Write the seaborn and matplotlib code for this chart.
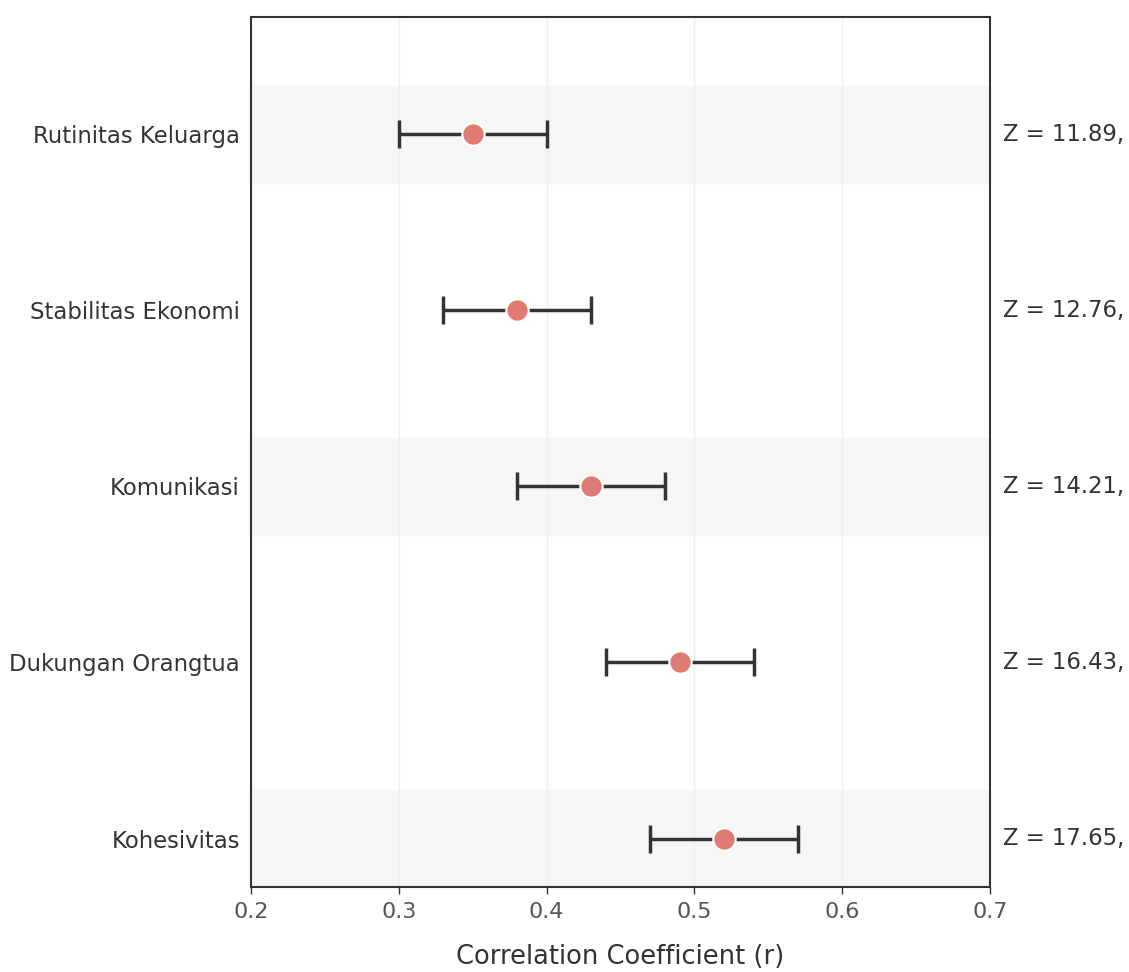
import numpy as np
import pandas as pd
import seaborn as sns
import matplotlib.pyplot as plt
import matplotlib.transforms as mtransforms

# data (bottom to top)
factors = ['Kohesivitas', 'Dukungan Orangtua', 'Komunikasi', 'Stabilitas Ekonomi', 'Rutinitas Keluarga']
r_values = [0.52, 0.49, 0.43, 0.38, 0.35]
ci_low = [0.47, 0.44, 0.38, 0.33, 0.30]
ci_high = [0.57, 0.54, 0.48, 0.43, 0.40]
z_labels = ['Z = 17.65,', 'Z = 16.43,', 'Z = 14.21,', 'Z = 12.76,', 'Z = 11.89,']

df = pd.DataFrame({'factor': factors, 'r': r_values, 'lo': ci_low, 'hi': ci_high})
df['pos'] = np.arange(len(df))

sns.set_theme(style='white')
plt.rcParams['font.family'] = ['DejaVu Sans']

fig = plt.figure(figsize=(11.29, 9.72), dpi=100)
ax = fig.add_axes([0.2223, 0.0875, 0.6546, 0.895])

# alternating background bands
for p in df['pos']:
    if p % 2 == 0:
        ax.axhspan(p - 0.275, p + 0.275, color='#f6f6f6', zorder=0)

ax.grid(axis='x', color='#efefef', linewidth=1, zorder=0.5)
ax.set_axisbelow(True)

# confidence intervals
ax.errorbar(df['r'], df['pos'],
            xerr=[df['r'] - df['lo'], df['hi'] - df['r']],
            fmt='none', ecolor='#333333', elinewidth=2.5,
            capsize=10, capthick=2.5, zorder=2)

sns.scatterplot(data=df, x='r', y='pos', ax=ax, color='#DF7B72',
                s=260, edgecolor='white', linewidth=1.5, zorder=3, legend=False)

ax.set_xlim(0.2, 0.7)
ax.set_ylim(-0.275, 4.665)
ax.set_xticks([0.2, 0.3, 0.4, 0.5, 0.6, 0.7])
ax.set_yticks(df['pos'])
ax.set_yticklabels(df['factor'])
ax.tick_params(axis='y', labelsize=16.4, labelcolor='#333333', length=0, pad=8)
ax.tick_params(axis='x', labelsize=16, labelcolor='#555555', length=5, width=1,
               color='#333333', bottom=True, pad=6)
ax.set_xlabel('Correlation Coefficient (r)', fontsize=18.5, color='#333333', labelpad=16)
ax.set_ylabel('')

for s in ax.spines.values():
    s.set_color('#333333')
    s.set_linewidth(1.5)

trans = mtransforms.blended_transform_factory(ax.transAxes, ax.transData)
for p, z in zip(df['pos'], z_labels):
    ax.text(1.018, p, z, transform=trans, va='center', ha='left', fontsize=16.4, color='#333333')

fig.savefig('out.png', dpi=100, facecolor='white')
